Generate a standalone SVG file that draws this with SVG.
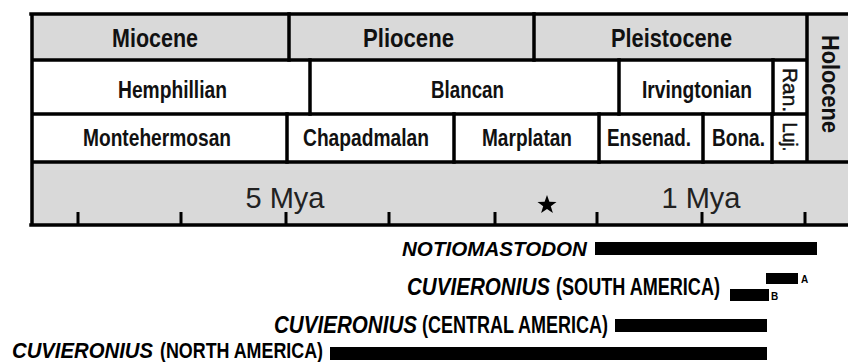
<svg xmlns="http://www.w3.org/2000/svg" width="848" height="362" viewBox="0 0 848 362">
<style>
.g{fill:#d9d9d9}
.w{fill:#ffffff}
.ln{stroke:#000;stroke-width:3.5;fill:none;stroke-linecap:square}
.tk{stroke:#000;stroke-width:3;fill:none}
.lb{font-family:"Liberation Sans Narrow","Liberation Sans",Arial,sans-serif;font-weight:bold;fill:#111;text-anchor:middle}
.ep{font-size:25px}
.st{font-size:23px}
.vt{font-size:20px;font-weight:normal;stroke:#111;stroke-width:0.5}
.my{font-family:"Liberation Sans",Arial,sans-serif;font-size:29px;fill:#222;text-anchor:middle}
.sp{font-family:"Liberation Sans Narrow","Liberation Sans",Arial,sans-serif;font-weight:bold;font-style:italic;fill:#000}
.rg{font-family:"Liberation Sans Narrow","Liberation Sans",Arial,sans-serif;font-weight:bold;fill:#000}
.bar{fill:#000}
.sm{font-family:"Liberation Sans",Arial,sans-serif;font-weight:bold;font-size:10px;fill:#000}
</style>
<rect width="848" height="362" fill="#fff"/>
<g id="table">
  <rect class="g" x="32" y="14" width="775" height="46"/>
  <rect class="w" x="32" y="60" width="775" height="102"/>
  <rect class="g" x="807" y="14" width="41" height="148"/>
  <rect class="g" x="32" y="162" width="816" height="63"/>
  <path class="ln" d="M31 14H848M32 14V225M31 225H848M807 14V162M32 60H807M32 114H807M32 162H848"/>
  <path class="ln" d="M289 14V60M534 14V60M310 60V114M619 60V114M773 60V114M287 114V162M454 114V162M599 114V162M703 114V162M772 114V162"/>
  <path class="tk" d="M78 212V225M181 212V225M286 212V225M389 212V225M495 212V225M597 212V225M702 212V225M805 212V225"/>
</g>
<g id="epochs">
  <text class="lb ep" x="155" y="47" textLength="86" lengthAdjust="spacingAndGlyphs">Miocene</text>
  <text class="lb ep" x="408.5" y="47" textLength="91" lengthAdjust="spacingAndGlyphs">Pliocene</text>
  <text class="lb ep" x="671.5" y="47" textLength="121" lengthAdjust="spacingAndGlyphs">Pleistocene</text>
  <text class="lb" style="font-size:23px" transform="translate(822,84) rotate(90)" x="0" y="0" textLength="98" lengthAdjust="spacingAndGlyphs">Holocene</text>
</g>
<g id="nalma">
  <text class="lb st" x="172.5" y="98" textLength="109" lengthAdjust="spacingAndGlyphs">Hemphillian</text>
  <text class="lb st" x="467.5" y="98" textLength="73" lengthAdjust="spacingAndGlyphs">Blancan</text>
  <text class="lb st" x="697" y="98" textLength="110" lengthAdjust="spacingAndGlyphs">Irvingtonian</text>
  <text class="lb vt" transform="translate(783,90) rotate(90)" x="0" y="0" textLength="44" lengthAdjust="spacingAndGlyphs">Ran.</text>
</g>
<g id="salma">
  <text class="lb st" x="157" y="146" textLength="148" lengthAdjust="spacingAndGlyphs">Montehermosan</text>
  <text class="lb st" x="366" y="146" textLength="126" lengthAdjust="spacingAndGlyphs">Chapadmalan</text>
  <text class="lb st" x="527" y="146" textLength="90" lengthAdjust="spacingAndGlyphs">Marplatan</text>
  <text class="lb st" x="649" y="146" textLength="84" lengthAdjust="spacingAndGlyphs">Ensenad.</text>
  <text class="lb st" x="738.5" y="146" textLength="53" lengthAdjust="spacingAndGlyphs">Bona.</text>
  <text class="lb vt" transform="translate(783,137) rotate(90)" x="0" y="0" textLength="29" lengthAdjust="spacingAndGlyphs">Luj.</text>
</g>
<g id="timescale">
  <text class="my" x="285" y="208">5 Mya</text>
  <text class="my" x="701" y="208">1 Mya</text>
  <polygon fill="#000" points="547,195 549.4,201.8 556.5,201.9 550.8,206.2 552.9,213 547,208.9 541.1,213 543.2,206.2 537.5,201.9 544.6,201.8"/>
</g>
<g id="notiomastodon">
  <text class="sp" x="402" y="256" font-size="20" textLength="185" lengthAdjust="spacingAndGlyphs">NOTIOMASTODON</text>
  <rect class="bar" x="595" y="242" width="222" height="13"/>
</g>
<g id="cuvieronius-south">
  <text class="sp" x="407" y="295" font-size="23" textLength="143" lengthAdjust="spacingAndGlyphs">CUVIERONIUS</text>
  <text class="rg" x="556" y="295" font-size="23" textLength="164" lengthAdjust="spacingAndGlyphs">(SOUTH AMERICA)</text>
  <rect class="bar" x="766" y="273" width="32" height="11"/>
  <text class="sm" x="801" y="283">A</text>
  <rect class="bar" x="730" y="289" width="39" height="12"/>
  <text class="sm" x="771" y="300">B</text>
</g>
<g id="cuvieronius-central">
  <text class="sp" x="274" y="333" font-size="23" textLength="143" lengthAdjust="spacingAndGlyphs">CUVIERONIUS</text>
  <text class="rg" x="422" y="333" font-size="23" textLength="186" lengthAdjust="spacingAndGlyphs">(CENTRAL AMERICA)</text>
  <rect class="bar" x="615" y="319" width="152" height="13"/>
</g>
<g id="cuvieronius-north">
  <text class="sp" x="12" y="358" font-size="22" textLength="141" lengthAdjust="spacingAndGlyphs">CUVIERONIUS</text>
  <text class="rg" x="160" y="358" font-size="22" textLength="163" lengthAdjust="spacingAndGlyphs">(NORTH AMERICA)</text>
  <rect class="bar" x="330" y="347" width="437" height="13"/>
</g>
</svg>
